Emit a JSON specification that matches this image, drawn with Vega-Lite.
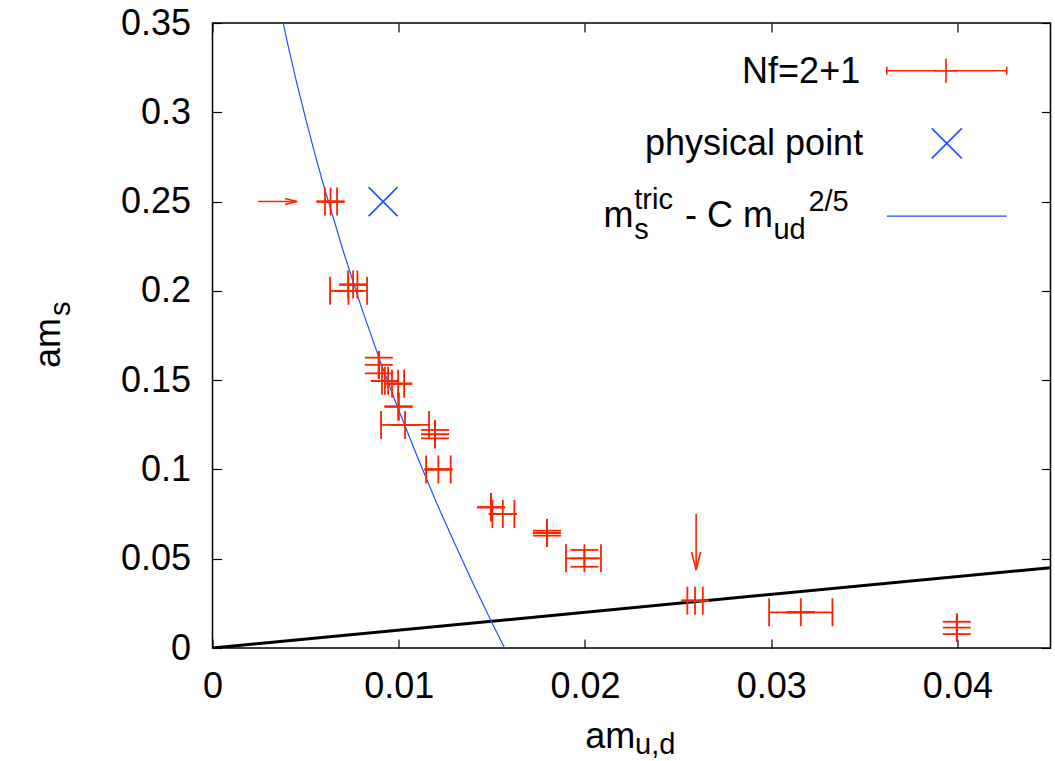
{
  "$schema": "https://vega.github.io/schema/vega-lite/v6.json",
  "width": 838,
  "height": 625,
  "autosize": "none",
  "padding": {"left": 212.5, "top": 23, "right": 4.5, "bottom": 113},
  "background": "white",
  "config": {"view": {"stroke": "black", "strokeWidth": 1.5}, "font": "Liberation Sans"},
  "datasets": {
    "pts": [
      {"x": 0.00634, "xlo": 0.00604, "xhi": 0.00669, "y": 0.25, "ylo": 0.25, "yhi": 0.25},
      {"x": 0.0073, "xlo": 0.00631, "xhi": 0.0083, "y": 0.2, "ylo": 0.2, "yhi": 0.2},
      {"x": 0.00755, "xlo": 0.00728, "xhi": 0.00778, "y": 0.2035, "ylo": 0.2035, "yhi": 0.2035},
      {"x": 0.00893, "xlo": 0.00893, "xhi": 0.00893, "y": 0.1585, "ylo": 0.1538, "yhi": 0.1626},
      {"x": 0.00926, "xlo": 0.0091, "xhi": 0.00943, "y": 0.1496, "ylo": 0.1496, "yhi": 0.1496},
      {"x": 0.00997, "xlo": 0.00964, "xhi": 0.01029, "y": 0.148, "ylo": 0.148, "yhi": 0.148},
      {"x": 0.00999, "xlo": 0.00999, "xhi": 0.00999, "y": 0.1352, "ylo": 0.1352, "yhi": 0.1352},
      {"x": 0.01034, "xlo": 0.00905, "xhi": 0.01163, "y": 0.1249, "ylo": 0.1249, "yhi": 0.1249},
      {"x": 0.01195, "xlo": 0.01195, "xhi": 0.01195, "y": 0.1197, "ylo": 0.1174, "yhi": 0.1221},
      {"x": 0.01213, "xlo": 0.01147, "xhi": 0.01279, "y": 0.1, "ylo": 0.1, "yhi": 0.1},
      {"x": 0.01496, "xlo": 0.01496, "xhi": 0.01496, "y": 0.0788, "ylo": 0.0788, "yhi": 0.0788},
      {"x": 0.01559, "xlo": 0.01503, "xhi": 0.01621, "y": 0.075, "ylo": 0.075, "yhi": 0.075},
      {"x": 0.01796, "xlo": 0.01796, "xhi": 0.01796, "y": 0.0644, "ylo": 0.0629, "yhi": 0.0657},
      {"x": 0.01997, "xlo": 0.01898, "xhi": 0.02086, "y": 0.0502, "ylo": 0.0455, "yhi": 0.0549},
      {"x": 0.02591, "xlo": 0.0255, "xhi": 0.02633, "y": 0.0265, "ylo": 0.0265, "yhi": 0.0265},
      {"x": 0.03159, "xlo": 0.02989, "xhi": 0.03329, "y": 0.02, "ylo": 0.02, "yhi": 0.02},
      {"x": 0.03997, "xlo": 0.03997, "xhi": 0.03997, "y": 0.0114, "ylo": 0.0078, "yhi": 0.0147}
    ],
    "curve": [
      {"x": 0.0035, "y": 0.3647},
      {"x": 0.004, "y": 0.34},
      {"x": 0.0045, "y": 0.3175},
      {"x": 0.005, "y": 0.2966},
      {"x": 0.0055, "y": 0.2766},
      {"x": 0.006, "y": 0.2579},
      {"x": 0.007, "y": 0.223},
      {"x": 0.008, "y": 0.1906},
      {"x": 0.009, "y": 0.1608},
      {"x": 0.01, "y": 0.1331},
      {"x": 0.011, "y": 0.1071},
      {"x": 0.012, "y": 0.082},
      {"x": 0.013, "y": 0.0586},
      {"x": 0.014, "y": 0.036},
      {"x": 0.015, "y": 0.0143},
      {"x": 0.016, "y": -0.0066}
    ],
    "diag": [{"x": 0, "y": 0}, {"x": 0.045, "y": 0.045}],
    "phys": [{"x": 0.00916, "y": 0.25}],
    "arrows": [
      {"x": 0.00244, "y": 0.25, "x2": 0.00454, "y2": 0.25, "dir": "right"},
      {"x": 0.02597, "y": 0.075, "x2": 0.02597, "y2": 0.0437, "dir": "down"}
    ],
    "one": [{}]
  },
  "layer": [
    {
      "layer": [
        {
          "data": {"name": "diag"},
          "mark": {"type": "line", "color": "black", "strokeWidth": 3, "clip": true},
          "encoding": {
            "x": {"field": "x", "type": "quantitative",
              "scale": {"domain": [0, 0.045], "nice": false, "zero": false},
              "axis": {"orient": "bottom", "values": [0, 0.01, 0.02, 0.03, 0.04], "format": ".2~f",
                "tickSize": -9, "tickColor": "black", "tickWidth": 1.2, "labelPadding": 30,
                "labelFontSize": 36, "labelFont": "Liberation Sans", "labelColor": "black",
                "labelFlush": false, "labelOverlap": false, "domain": false, "grid": false, "title": null}},
            "y": {"field": "y", "type": "quantitative",
              "scale": {"domain": [0, 0.35], "nice": false},
              "axis": {"orient": "left", "values": [0, 0.05, 0.1, 0.15, 0.2, 0.25, 0.3, 0.35], "format": ".2~f",
                "tickSize": -9, "tickColor": "black", "tickWidth": 1.2, "labelPadding": 31,
                "labelFontSize": 36, "labelFont": "Liberation Sans", "labelColor": "black",
                "labelFlush": false, "labelOverlap": false, "domain": false, "grid": false, "title": null}}
          }
        },
        {
          "data": {"name": "curve"},
          "mark": {"type": "line", "color": "#1f4fff", "strokeWidth": 1.2, "clip": true},
          "encoding": {"x": {"field": "x", "type": "quantitative"}, "y": {"field": "y", "type": "quantitative"}}
        },
        {
          "data": {"name": "pts"},
          "mark": {"type": "rule", "color": "#ff2200", "strokeWidth": 1.8},
          "encoding": {"x": {"field": "xlo", "type": "quantitative"}, "x2": {"field": "xhi"}, "y": {"field": "y", "type": "quantitative"}}
        },
        {
          "data": {"name": "pts"},
          "mark": {"type": "rule", "color": "#ff2200", "strokeWidth": 1.8},
          "encoding": {"x": {"field": "x", "type": "quantitative"}, "y": {"field": "ylo", "type": "quantitative"}, "y2": {"field": "yhi"}}
        },
        {
          "data": {"name": "pts"},
          "mark": {"type": "point", "shape": "M0,-1V1", "size": 784, "color": "#ff2200", "filled": false, "strokeWidth": 1.8, "opacity": 1},
          "encoding": {"x": {"field": "xlo", "type": "quantitative"}, "y": {"field": "y", "type": "quantitative"}}
        },
        {
          "data": {"name": "pts"},
          "mark": {"type": "point", "shape": "M0,-1V1", "size": 784, "color": "#ff2200", "filled": false, "strokeWidth": 1.8, "opacity": 1},
          "encoding": {"x": {"field": "xhi", "type": "quantitative"}, "y": {"field": "y", "type": "quantitative"}}
        },
        {
          "data": {"name": "pts"},
          "mark": {"type": "point", "shape": "M-1,0H1", "size": 784, "color": "#ff2200", "filled": false, "strokeWidth": 1.8, "opacity": 1},
          "encoding": {"x": {"field": "x", "type": "quantitative"}, "y": {"field": "ylo", "type": "quantitative"}}
        },
        {
          "data": {"name": "pts"},
          "mark": {"type": "point", "shape": "M-1,0H1", "size": 784, "color": "#ff2200", "filled": false, "strokeWidth": 1.8, "opacity": 1},
          "encoding": {"x": {"field": "x", "type": "quantitative"}, "y": {"field": "yhi", "type": "quantitative"}}
        },
        {
          "data": {"name": "pts"},
          "mark": {"type": "point", "shape": "M-1,0H1M0,-1V1", "size": 784, "color": "#ff2200", "filled": false, "strokeWidth": 1.8, "opacity": 1},
          "encoding": {"x": {"field": "x", "type": "quantitative"}, "y": {"field": "y", "type": "quantitative"}}
        },
        {
          "data": {"name": "phys"},
          "mark": {"type": "point", "shape": "M-1,-1L1,1M-1,1L1,-1", "size": 841, "color": "#1f4fff", "filled": false, "strokeWidth": 1.6, "opacity": 1},
          "encoding": {"x": {"field": "x", "type": "quantitative"}, "y": {"field": "y", "type": "quantitative"}}
        },
        {
          "data": {"name": "arrows"},
          "mark": {"type": "rule", "color": "#ff2200", "strokeWidth": 1.6},
          "encoding": {"x": {"field": "x", "type": "quantitative"}, "x2": {"field": "x2"}, "y": {"field": "y", "type": "quantitative"}, "y2": {"field": "y2"}}
        },
        {
          "data": {"name": "arrows"},
          "transform": [{"filter": "datum.dir == 'right'"}],
          "mark": {"type": "point", "shape": "M-2,-0.5L0,0L-2,0.5", "size": 144, "color": "#ff2200", "filled": false, "strokeWidth": 1.6, "opacity": 1},
          "encoding": {"x": {"field": "x2", "type": "quantitative"}, "y": {"field": "y2", "type": "quantitative"}}
        },
        {
          "data": {"name": "arrows"},
          "transform": [{"filter": "datum.dir == 'down'"}],
          "mark": {"type": "point", "shape": "M-0.5,-2L0,0L0.5,-2", "size": 324, "color": "#ff2200", "filled": false, "strokeWidth": 1.6, "opacity": 1},
          "encoding": {"x": {"field": "x2", "type": "quantitative"}, "y": {"field": "y2", "type": "quantitative"}}
        },
        {
          "data": {"name": "one"},
          "mark": {"type": "text", "text": "Nf=2+1", "align": "right", "baseline": "alphabetic", "fontSize": 36, "font": "Liberation Sans", "color": "black"},
          "encoding": {"x": {"datum": 0.03478}, "y": {"datum": 0.3162}}
        },
        {
          "data": {"name": "one"},
          "mark": {"type": "rule", "color": "#ff2200", "strokeWidth": 1.6},
          "encoding": {"x": {"datum": 0.03621}, "x2": {"datum": 0.04265}, "y": {"datum": 0.3233}}
        },
        {
          "data": {"name": "one"},
          "mark": {"type": "point", "shape": "M0,-1V1", "size": 64, "color": "#ff2200", "filled": false, "strokeWidth": 1.6, "opacity": 1},
          "encoding": {"x": {"datum": 0.03621}, "y": {"datum": 0.3233}}
        },
        {
          "data": {"name": "one"},
          "mark": {"type": "point", "shape": "M0,-1V1", "size": 64, "color": "#ff2200", "filled": false, "strokeWidth": 1.6, "opacity": 1},
          "encoding": {"x": {"datum": 0.04265}, "y": {"datum": 0.3233}}
        },
        {
          "data": {"name": "one"},
          "mark": {"type": "point", "shape": "M-1,0H1M0,-1V1", "size": 600, "color": "#ff2200", "filled": false, "strokeWidth": 1.6, "opacity": 1},
          "encoding": {"x": {"datum": 0.03939}, "y": {"datum": 0.3233}}
        },
        {
          "data": {"name": "one"},
          "mark": {"type": "text", "text": "physical point", "align": "right", "baseline": "alphabetic", "fontSize": 36, "font": "Liberation Sans", "color": "black"},
          "encoding": {"x": {"datum": 0.03494}, "y": {"datum": 0.2761}}
        },
        {
          "data": {"name": "one"},
          "mark": {"type": "point", "shape": "M-1,-1L1,1M-1,1L1,-1", "size": 900, "color": "#1f4fff", "filled": false, "strokeWidth": 1.6, "opacity": 1},
          "encoding": {"x": {"datum": 0.03943}, "y": {"datum": 0.2826}}
        },
        {
          "data": {"name": "one"},
          "mark": {"type": "rule", "color": "#1f4fff", "strokeWidth": 1.2},
          "encoding": {"x": {"datum": 0.03621}, "x2": {"datum": 0.04265}, "y": {"datum": 0.2419}}
        },
        {
          "data": {"name": "one"},
          "mark": {"type": "text", "text": "m", "align": "left", "baseline": "alphabetic", "fontSize": 36, "font": "Liberation Sans", "color": "black"},
          "encoding": {"x": {"datum": 0.02100}, "y": {"datum": 0.2359}}
        },
        {
          "data": {"name": "one"},
          "mark": {"type": "text", "text": "s", "align": "left", "baseline": "alphabetic", "fontSize": 29, "font": "Liberation Sans", "color": "black"},
          "encoding": {"x": {"datum": 0.02265}, "y": {"datum": 0.2290}}
        },
        {
          "data": {"name": "one"},
          "mark": {"type": "text", "text": "tric", "align": "left", "baseline": "alphabetic", "fontSize": 29, "font": "Liberation Sans", "color": "black"},
          "encoding": {"x": {"datum": 0.02265}, "y": {"datum": 0.2460}}
        },
        {
          "data": {"name": "one"},
          "mark": {"type": "text", "text": "- C m", "align": "left", "baseline": "alphabetic", "fontSize": 36, "font": "Liberation Sans", "color": "black"},
          "encoding": {"x": {"datum": 0.02537}, "y": {"datum": 0.2359}}
        },
        {
          "data": {"name": "one"},
          "mark": {"type": "text", "text": "ud", "align": "left", "baseline": "alphabetic", "fontSize": 29, "font": "Liberation Sans", "color": "black"},
          "encoding": {"x": {"datum": 0.03012}, "y": {"datum": 0.2288}}
        },
        {
          "data": {"name": "one"},
          "mark": {"type": "text", "text": "2/5", "align": "left", "baseline": "alphabetic", "fontSize": 29, "font": "Liberation Sans", "color": "black"},
          "encoding": {"x": {"datum": 0.03200}, "y": {"datum": 0.2450}}
        },
        {
          "data": {"name": "one"},
          "mark": {"type": "text", "text": "am", "align": "left", "baseline": "alphabetic", "angle": 270, "fontSize": 36, "font": "Liberation Sans", "color": "black"},
          "encoding": {"x": {"datum": -0.00819}, "y": {"datum": 0.1568}}
        },
        {
          "data": {"name": "one"},
          "mark": {"type": "text", "text": "s", "align": "left", "baseline": "alphabetic", "angle": 270, "fontSize": 29, "font": "Liberation Sans", "color": "black"},
          "encoding": {"x": {"datum": -0.00765}, "y": {"datum": 0.1859}}
        },
        {
          "data": {"name": "one"},
          "mark": {"type": "text", "text": "am", "align": "left", "baseline": "alphabetic", "fontSize": 36, "font": "Liberation Sans", "color": "black"},
          "encoding": {"x": {"datum": 0.02001}, "y": {"datum": -0.0560}}
        },
        {
          "data": {"name": "one"},
          "mark": {"type": "text", "text": "u,d", "align": "left", "baseline": "alphabetic", "fontSize": 29, "font": "Liberation Sans", "color": "black"},
          "encoding": {"x": {"datum": 0.02269}, "y": {"datum": -0.0594}}
        }
      ]
    },
    {
      "data": {"name": "diag"},
      "mark": {"type": "point", "opacity": 0},
      "encoding": {
        "x": {"field": "x", "type": "quantitative",
          "axis": {"orient": "top", "values": [0, 0.01, 0.02, 0.03, 0.04], "labels": false,
            "tickSize": -9, "tickColor": "black", "tickWidth": 1.2, "domain": false, "grid": false, "title": null}},
        "y": {"field": "y", "type": "quantitative",
          "axis": {"orient": "right", "values": [0, 0.05, 0.1, 0.15, 0.2, 0.25, 0.3, 0.35], "labels": false,
            "tickSize": -9, "tickColor": "black", "tickWidth": 1.2, "domain": false, "grid": false, "title": null}}
      }
    }
  ],
  "resolve": {"axis": {"x": "independent", "y": "independent"}}
}
